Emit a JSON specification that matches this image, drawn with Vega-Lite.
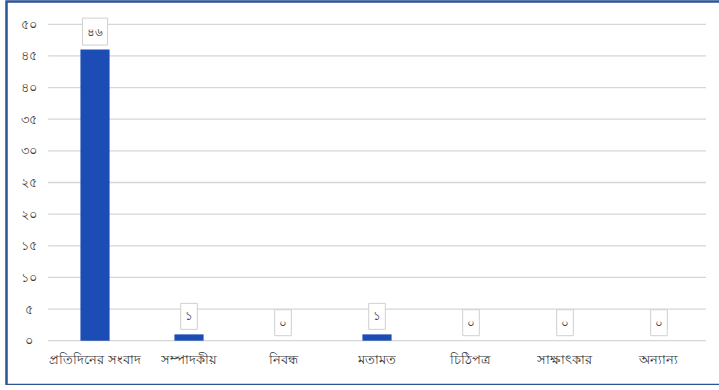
{
  "$schema": "https://vega.github.io/schema/vega-lite/v6.json",
  "width": 714,
  "height": 383.5,
  "padding": {"left": 6.5, "top": 1.5, "right": 0, "bottom": 0},
  "autosize": {"type": "none"},
  "background": "#ffffff",
  "config": {
    "locale": {
      "number": {
        "decimal": ".",
        "thousands": ",",
        "grouping": [3],
        "currency": ["", ""],
        "numerals": ["০", "১", "২", "৩", "৪", "৫", "৬", "৭", "৮", "৯"]
      }
    },
    "view": {"stroke": "#2f5496", "strokeWidth": 2.5},
    "font": "Noto Sans",
    "axisX": {
      "title": null,
      "bandPosition": 0.5,
      "domain": false,
      "ticks": false,
      "tickSize": 0,
      "grid": false,
      "labelPadding": 0,
      "labelBaseline": "middle",
      "labelAngle": 0,
      "labelOverlap": false,
      "offset": -26,
      "labelFontSize": 13,
      "labelColor": "#333333"
    },
    "axisY": {
      "title": null,
      "grid": false,
      "domain": false,
      "ticks": false,
      "tickSize": 0,
      "labelPadding": 0,
      "labelAlign": "center",
      "labelOverlap": false,
      "labelSeparation": 0,
      "offset": -21.5,
      "labelFontSize": 13,
      "labelColor": "#404040"
    }
  },
  "datasets": {
    "counts": [
      {"category": "প্রতিদিনের সংবাদ", "value": 46},
      {"category": "সম্পাদকীয়", "value": 1},
      {"category": "নিবন্ধ", "value": 0},
      {"category": "মতামত", "value": 1},
      {"category": "চিঠিপত্র", "value": 0},
      {"category": "সাক্ষাৎকার", "value": 0},
      {"category": "অন্যান্য", "value": 0}
    ],
    "grid": [
      {"v": 0}, {"v": 5}, {"v": 10}, {"v": 15}, {"v": 20}, {"v": 25},
      {"v": 30}, {"v": 35}, {"v": 40}, {"v": 45}, {"v": 50}
    ]
  },
  "layer": [
    {
      "data": {"name": "grid"},
      "mark": {"type": "rule", "stroke": "#d6d6d6", "strokeWidth": 1.3},
      "encoding": {
        "y": {
          "field": "v",
          "type": "quantitative",
          "title": null,
          "scale": {"domain": [-7, 53.6], "nice": false, "zero": false},
          "axis": {"values": [0, 5, 10, 15, 20, 25, 30, 35, 40, 45, 50], "format": "d", "labelOverlap": false, "tickCount": 11, "labelBound": false}
        },
        "x": {
          "datum": "প্রতিদিনের সংবাদ",
          "bandPosition": 0,
          "title": null,
          "scale": {
            "domain": ["প্রতিদিনের সংবাদ", "সম্পাদকীয়", "নিবন্ধ", "মতামত", "চিঠিপত্র", "সাক্ষাৎকার", "অন্যান্য"],
            "paddingInner": 0,
            "paddingOuter": 0.298,
            "align": 0.741
          },
          "axis": {"bandPosition": 0.5}
        },
        "x2": {"datum": "অন্যান্য", "bandPosition": 1}
      }
    },
    {
      "data": {"name": "counts"},
      "mark": {"type": "bar", "color": "#1c4db5", "width": {"band": 0.31}},
      "encoding": {
        "x": {"field": "category", "type": "nominal", "sort": null, "title": null, "axis": {"bandPosition": 0.5}},
        "y": {
          "field": "value",
          "type": "quantitative",
          "title": null,
          "axis": {"values": [0, 5, 10, 15, 20, 25, 30, 35, 40, 45, 50], "format": "d", "labelOverlap": false, "tickCount": 11, "labelBound": false}
        },
        "y2": {"datum": 0}
      }
    },
    {
      "data": {"name": "counts"},
      "mark": {"type": "point", "filled": true, "fill": "#ffffff", "stroke": "#d0d0d0", "strokeWidth": 1, "opacity": 1, "yOffset": -18},
      "encoding": {
        "x": {"field": "category", "type": "nominal", "sort": null, "title": null},
        "y": {"field": "value", "type": "quantitative", "title": null},
        "shape": {
          "condition": {"test": "datum.value >= 10", "value": "M-0.93,-1H0.93V1H-0.93Z"},
          "value": "M-0.64,-1H0.64V1H-0.64Z"
        },
        "size": {"condition": {"test": "datum.value >= 10", "value": 729}, "value": 676}
      }
    },
    {
      "data": {"name": "counts"},
      "mark": {"type": "text", "fontSize": 12, "color": "#333333", "yOffset": -18, "baseline": "middle"},
      "encoding": {
        "x": {"field": "category", "type": "nominal", "sort": null, "title": null},
        "y": {"field": "value", "type": "quantitative", "title": null},
        "text": {"field": "value", "type": "quantitative", "format": "d"}
      }
    }
  ]
}
